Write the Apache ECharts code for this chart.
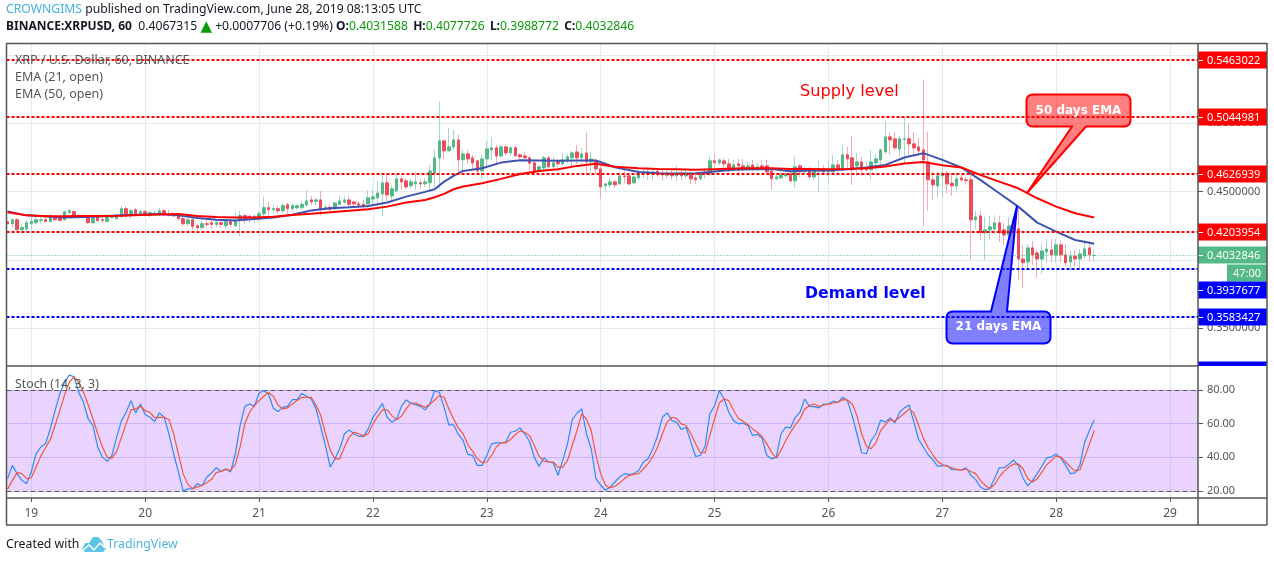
<!DOCTYPE html>
<html><head><meta charset="utf-8">
<style>html,body{margin:0;padding:0;background:#fff}#c{width:1274px;height:562px}</style>
<script src="https://cdn.jsdelivr.net/npm/echarts@6/dist/echarts.min.js"></script>
</head><body><div id="c"></div>
<script>
const firstHour = -5;
const dayLabels = ['19','20','21','22','23','24','25','26','27','28','29'];
const priceGrid = [0.35,0.40,0.45,0.50,0.55];
const priceTicks = [0.35,0.40,0.45,0.50];
const stochTicks = [20,40,60,80];
const opens = [
.4280,.4265,.4294,.4221,.4228,.4265,.4272,.4289,.4294,.4280,
.4309,.4309,.4294,.4346,.4353,.4324,.4324,.4316,.4272,.4316,
.4294,.4282,.4311,.4302,.4316,.4375,.4331,.4367,.4338,.4353,
.4324,.4338,.4336,.4360,.4331,.4331,.4331,.4302,.4265,.4294,
.4250,.4236,.4265,.4272,.4260,.4272,.4250,.4280,.4250,.4294,
.4324,.4319,.4304,.4299,.4338,.4382,.4367,.4375,.4360,.4404,
.4375,.4382,.4385,.4402,.4439,.4429,.4439,.4373,.4385,.4373,
.4407,.4422,.4439,.4424,.4410,.4407,.4410,.4446,.4454,.4483,
.4564,.4468,.4505,.4593,.4578,.4542,.4556,.4564,.4556,.4564,
.4637,.4747,.4871,.4798,.4827,.4878,.4732,.4776,.4747,.4725,
.4651,.4739,.4805,.4820,.4761,.4827,.4783,.4820,.4769,.4761,
.4747,.4710,.4651,.4673,.4747,.4681,.4725,.4703,.4725,.4747,
.4790,.4747,.4783,.4717,.4725,.4666,.4542,.4549,.4571,.4556,
.4615,.4615,.4564,.4600,.4637,.4629,.4634,.4649,.4634,.4620,
.4629,.4615,.4634,.4615,.4622,.4600,.4593,.4637,.4629,.4725,
.4710,.4725,.4703,.4659,.4703,.4688,.4666,.4695,.4659,.4688,
.4688,.4651,.4593,.4600,.4615,.4629,.4578,.4688,.4644,.4666,
.4607,.4651,.4666,.4644,.4644,.4695,.4659,.4769,.4747,.4688,
.4717,.4666,.4659,.4710,.4732,.4790,.4900,.4886,.4812,.4881,
.4886,.4849,.4827,.4805,.4717,.4586,.4542,.4615,.4634,.4561,
.4542,.4600,.4586,.4586,.4293,.4322,.4198,.4220,.4227,.4271,
.4220,.4183,.4293,.4227,.4007,.3985,.4088,.4051,.4007,.4058,
.4073,.4037,.4110,.4037,.3985,.4029,.4007,.4029,.4088,.4032];
const highs = [
.4280,.4306,.4306,.4265,.4294,.4314,.4314,.4314,.4314,.4336,
.4326,.4326,.4353,.4375,.4360,.4338,.4338,.4326,.4324,.4326,
.4319,.4331,.4331,.4338,.4397,.4392,.4375,.4382,.4367,.4367,
.4360,.4358,.4377,.4375,.4367,.4343,.4343,.4314,.4309,.4309,
.4265,.4287,.4294,.4287,.4287,.4294,.4294,.4299,.4348,.4360,
.4338,.4331,.4331,.4355,.4463,.4426,.4404,.4392,.4411,.4419,
.4411,.4411,.4427,.4512,.4468,.4456,.4505,.4402,.4402,.4424,
.4468,.4463,.4468,.4432,.4432,.4439,.4512,.4517,.4578,.4622,
.4629,.4549,.4622,.4622,.4593,.4593,.4644,.4593,.4600,.4695,
.4810,.5157,.4878,.4966,.4952,.4915,.4805,.4805,.4769,.4732,
.4769,.4871,.4900,.4842,.4842,.4842,.4834,.4834,.4776,.4790,
.4761,.4732,.4695,.4761,.4761,.4754,.4739,.4783,.4776,.4798,
.4842,.4820,.4930,.4790,.4739,.4703,.4564,.4600,.4586,.4644,
.4659,.4622,.4615,.4659,.4671,.4673,.4659,.4671,.4666,.4659,
.4659,.4688,.4651,.4659,.4651,.4637,.4644,.4673,.4761,.4776,
.4739,.4744,.4739,.4732,.4739,.4739,.4717,.4732,.4710,.4732,
.4732,.4673,.4629,.4644,.4651,.4644,.4754,.4703,.4681,.4681,
.4666,.4725,.4695,.4732,.4769,.4732,.4842,.4827,.4908,.4783,
.4754,.4717,.4805,.4776,.4812,.5017,.4937,.4937,.4908,.5037,
.4995,.4937,.4893,.5318,.4937,.4649,.4651,.4776,.4651,.4637,
.4637,.4622,.4610,.4659,.4359,.4359,.4315,.4322,.4327,.4322,
.4268,.4317,.4317,.4390,.4110,.4117,.4139,.4080,.4110,.4154,
.4154,.4154,.4139,.4117,.4066,.4073,.4080,.4146,.4139,.4078];
const lows = [
.4265,.4233,.4216,.4192,.4197,.4221,.4258,.4265,.4280,.4272,
.4289,.4287,.4289,.4338,.4311,.4304,.4304,.4265,.4258,.4282,
.4270,.4280,.4302,.4294,.4311,.4306,.4302,.4326,.4326,.4319,
.4316,.4319,.4324,.4319,.4319,.4314,.4289,.4250,.4250,.4216,
.4221,.4221,.4236,.4228,.4236,.4233,.4228,.4243,.4241,.4172,
.4265,.4275,.4270,.4282,.4304,.4324,.4343,.4338,.4343,.4338,
.4353,.4367,.4366,.4390,.4402,.4402,.4322,.4366,.4354,.4366,
.4402,.4407,.4385,.4378,.4385,.4371,.4366,.4390,.4390,.4322,
.4432,.4439,.4498,.4512,.4520,.4520,.4512,.4522,.4534,.4512,
.4532,.4522,.4739,.4793,.4805,.4634,.4647,.4703,.4659,.4622,
.4598,.4683,.4732,.4703,.4744,.4761,.4761,.4761,.4739,.4727,
.4659,.4634,.4639,.4644,.4668,.4673,.4678,.4688,.4710,.4688,
.4703,.4703,.4622,.4634,.4634,.4446,.4500,.4527,.4525,.4549,
.4561,.4549,.4556,.4586,.4598,.4586,.4586,.4610,.4578,.4598,
.4586,.4581,.4586,.4598,.4556,.4556,.4586,.4598,.4615,.4659,
.4695,.4651,.4644,.4644,.4610,.4644,.4651,.4651,.4651,.4659,
.4629,.4512,.4586,.4593,.4607,.4571,.4527,.4607,.4629,.4600,
.4586,.4498,.4622,.4556,.4622,.4634,.4644,.4659,.4549,.4615,
.4615,.4644,.4586,.4659,.4683,.4776,.4769,.4805,.4756,.4703,
.4769,.4769,.4769,.4249,.4361,.4439,.4454,.4454,.4488,.4468,
.4498,.4573,.4549,.4000,.4227,.4146,.4000,.4154,.4190,.4132,
.4110,.4110,.4122,.3853,.3797,.3927,.3963,.3871,.3897,.3980,
.3980,.3980,.3980,.3951,.3919,.3951,.3932,.4012,.3988,.3989];
const closes = [
.4265,.4294,.4221,.4236,.4272,.4282,.4294,.4294,.4280,.4316,
.4294,.4289,.4353,.4360,.4319,.4319,.4314,.4272,.4309,.4287,
.4289,.4326,.4316,.4326,.4375,.4331,.4360,.4338,.4353,.4326,
.4346,.4343,.4360,.4331,.4326,.4321,.4302,.4265,.4294,.4245,
.4236,.4265,.4260,.4260,.4272,.4260,.4280,.4260,.4289,.4324,
.4294,.4309,.4319,.4338,.4382,.4367,.4375,.4360,.4397,.4375,
.4397,.4397,.4407,.4432,.4424,.4439,.4371,.4385,.4371,.4417,
.4432,.4439,.4407,.4410,.4402,.4395,.4454,.4461,.4490,.4564,
.4476,.4520,.4593,.4571,.4534,.4571,.4571,.4556,.4571,.4651,
.4747,.4871,.4798,.4827,.4878,.4732,.4776,.4739,.4710,.4651,
.4739,.4812,.4820,.4761,.4827,.4783,.4820,.4761,.4754,.4747,
.4708,.4651,.4681,.4747,.4681,.4710,.4703,.4732,.4754,.4783,
.4747,.4776,.4717,.4739,.4666,.4534,.4556,.4571,.4549,.4615,
.4610,.4556,.4607,.4637,.4644,.4644,.4644,.4629,.4622,.4634,
.4615,.4629,.4615,.4629,.4593,.4586,.4629,.4629,.4725,.4712,
.4732,.4703,.4659,.4695,.4688,.4666,.4688,.4659,.4681,.4673,
.4644,.4593,.4607,.4622,.4629,.4578,.4681,.4644,.4666,.4607,
.4659,.4666,.4644,.4666,.4695,.4659,.4769,.4739,.4659,.4717,
.4659,.4659,.4717,.4739,.4805,.4900,.4878,.4820,.4886,.4886,
.4849,.4820,.4798,.4732,.4586,.4549,.4615,.4634,.4556,.4542,
.4593,.4586,.4581,.4293,.4315,.4198,.4220,.4242,.4271,.4198,
.4183,.4249,.4220,.4007,.3980,.4088,.4037,.4007,.4066,.4080,
.4037,.4110,.4037,.3980,.4029,.4007,.4044,.4080,.4037,.4033];
const emaHours = [-5,-1,3,7,11,15,19,23,27,31,35,39,43,47,51,55,59,63,67,71,75,79,83,85,87,89,91,95,99,103,107,111,115,119,123,128,132,136,140,144,148,152,156,160,164,168,172,176,180,184,188,192,196,200,204,208,212,216,220,224];
const ema21 = [.4355,.4326,.4319,.4311,.4314,.4319,.4326,.4331,.4336,.4326,.4306,.4294,.4289,.4299,.4311,.4331,.4361,.4378,.4385,.4395,.4420,.4463,.4498,.4517,.4573,.4615,.4651,.4671,.4712,.4729,.4727,.4725,.4727,.4727,.4678,.4644,.4634,.4632,.4634,.4647,.4659,.4664,.4666,.4649,.4654,.4654,.4664,.4676,.4695,.4749,.4781,.4732,.4676,.4586,.4488,.4390,.4273,.4207,.4146,.4119];
const ema50 = [.4348,.4326,.4319,.4319,.4321,.4321,.4324,.4328,.4333,.4336,.4321,.4314,.4311,.4311,.4316,.4328,.4337,.4349,.4359,.4371,.4390,.4420,.4439,.4459,.4483,.4517,.4537,.4561,.4593,.4629,.4651,.4664,.4688,.4703,.4681,.4671,.4666,.4664,.4659,.4664,.4668,.4671,.4671,.4666,.4666,.4664,.4666,.4671,.4683,.4705,.4717,.4693,.4676,.4622,.4573,.4524,.4451,.4390,.4341,.4310];
const stochK = [
27.3,35.2,30.3,26.3,24.3,31.3,42.1,46.1,48.0,56.9,
67.8,77.6,84.6,88.9,87.9,78.6,72.7,62.8,58.9,46.1,
40.1,37.6,41.1,52.0,61.8,66.8,73.7,66.4,71.7,65.4,
63.8,61.3,66.4,63.8,54.0,42.1,31.3,20.0,21.2,21.4,
24.3,23.0,28.3,30.7,33.8,31.6,33.2,31.3,42.1,58.9,
70.3,71.7,70.3,78.2,79.6,77.6,69.2,67.2,69.7,70.3,
74.3,74.3,78.0,76.3,74.7,68.8,57.9,47.0,34.2,39.1,
45.1,54.0,56.3,54.0,52.4,52.4,56.9,63.8,67.8,72.1,
63.8,60.9,62.8,70.3,74.1,72.1,71.3,70.3,
68.2,71.7,79.6,78.6,69.7,59.3,59.3,53.6,50.0,41.7,
41.1,35.2,35.2,41.1,48.0,48.6,48.6,49.0,54.9,55.5,
57.5,54.0,49.4,40.1,34.6,39.7,37.2,36.6,29.3,38.2,
48.0,62.4,66.2,68.8,54.0,45.1,27.3,23.4,20.4,22.4,
25.3,28.3,30.3,29.7,30.3,32.2,37.2,39.1,45.1,53.0,
63.8,66.4,61.8,60.9,56.5,57.9,49.0,40.5,41.1,46.6,
65.8,70.7,79.6,74.7,66.8,61.8,59.9,60.3,58.9,53.0,
53.6,51.4,41.1,39.1,40.1,54.0,57.9,57.5,63.8,66.8,
74.7,70.3,70.1,69.4,71.7,71.7,73.3,72.7,
75.7,73.7,64.8,54.0,42.7,42.1,50.0,54.0,62.2,60.9,
63.4,60.5,66.8,69.4,71.1,60.9,50.6,46.1,41.5,38.6,
34.6,35.0,35.2,32.6,32.6,32.6,33.8,29.3,26.9,22.4,
20.8,21.4,27.3,33.8,33.8,35.8,38.4,35.2,27.7,23.0,
26.1,30.3,34.8,39.7,40.3,41.9,39.5,35.2,30.3,30.7,
35.6,49.0,55.9,62.2];
const stochD = [
21.0,26.3,30.9,30.3,27.3,27.7,34.2,40.7,45.7,50.6,
58.9,67.8,77.0,84.6,87.9,84.6,78.6,71.1,62.8,54.0,
46.1,40.1,39.5,43.5,52.0,59.9,68.2,68.8,70.3,67.8,
66.8,63.4,63.8,63.8,62.4,54.0,42.1,30.3,23.9,21.4,
22.4,23.4,24.9,26.9,30.9,31.6,32.8,32.2,35.8,46.1,
59.9,66.8,70.7,73.7,76.3,78.6,76.3,71.1,68.8,69.4,
71.7,73.7,75.7,75.7,75.7,71.1,64.8,54.0,44.1,39.1,
39.1,46.1,52.0,54.9,54.0,52.6,54.0,59.9,64.4,68.2,
68.2,64.8,62.4,64.4,68.8,72.3,72.3,71.1,
69.7,71.7,74.1,76.7,75.7,68.8,62.8,57.5,54.0,47.6,
43.7,39.1,36.8,37.2,41.1,46.1,48.6,48.6,50.6,53.4,
55.7,54.9,52.9,47.0,40.7,37.6,37.2,37.2,34.2,34.2,
38.2,47.0,55.9,65.8,62.8,55.9,41.1,30.3,23.4,21.8,
22.8,24.9,27.3,29.3,29.9,30.3,33.2,36.2,40.5,46.1,
54.0,60.9,63.8,63.2,59.9,58.9,54.0,48.0,42.7,42.7,
53.0,62.8,72.3,74.7,73.7,67.8,63.2,61.5,59.5,56.9,
54.9,52.4,48.0,43.1,39.5,44.1,50.0,54.9,59.3,62.8,
68.8,70.7,71.7,70.3,71.1,71.5,72.3,72.7,
74.3,74.1,71.7,64.8,54.0,46.5,45.1,48.6,55.9,59.3,
62.4,61.5,63.8,66.2,68.8,66.4,58.9,51.4,45.7,41.5,
37.6,35.6,34.8,33.8,32.8,32.4,33.0,31.6,30.3,26.3,
23.4,21.4,23.8,28.3,31.6,34.2,36.0,36.0,33.2,27.3,
25.3,27.3,31.3,35.6,38.2,40.7,40.1,37.2,34.2,31.8,
32.6,40.1,48.0,55.9];
const supplyLevels = [0.5463022,0.5044981,0.4626939,0.4203954];
const demandLevels = [0.3937677,0.3583427];
const offscreenLevel = 0.3198;
const lastPrice = 0.4032846;
const countdown = '47:00';

const FONT = '"Noto Sans", sans-serif';
const W_FONT = '"DejaVu Sans", sans-serif';
const X0 = 6.5, X1 = 1198, H0 = 31.3, HPX = 4.745;
const hMin = (X0 - H0) / HPX, hMax = (X1 - H0) / HPX;
const dayTicks = dayLabels.map((_, i) => i * 24);
const hourOf = i => firstHour + i;

const wicks = opens.map((o, i) => [hourOf(i), o, closes[i], lows[i], highs[i]]);
const bodies = opens.map((o, i) => [hourOf(i), o, closes[i], Math.min(o, closes[i]), Math.max(o, closes[i])]);
const pair = (xs, ys) => ys.map((y, i) => [xs[i], y]);
const seq = a => a.map((y, i) => [hourOf(i), y]);

function levelLines(values, color) {
  return values.map(v => ({ yAxis: v, lineStyle: { color: color, type: [3, 2], width: 2 } }));
}
const tagData = [
  ...supplyLevels.map(v => [hMax, v, '#ff0000', 0]),
  [hMax, lastPrice, '#53b987', 0],
  [hMax, demandLevels[0], '#0000ff', 22],
  [hMax, demandLevels[1], '#0000ff', 0],
  [hMax, offscreenLevel, '#0000ff', 0]
];
function renderTag(params, api) {
  const row = tagData[params.dataIndex];
  const p = api.coord([row[0], row[1]]);
  const y = Math.round(p[1]) + row[3];
  const bottom = params.coordSys.y + params.coordSys.height;
  const kids = [
    { type: 'rect', shape: { x: p[0], y: y - 8.5, width: 69, height: Math.min(17, bottom - (y - 8.5)) }, style: { fill: row[2] } }
  ];
  if (y + 8.5 <= bottom) {
    kids.push(
      { type: 'line', shape: { x1: p[0], y1: y + .5, x2: p[0] + 5, y2: y + .5 }, style: { stroke: '#fff', lineWidth: 1 } },
      { type: 'text', x: p[0] + 9, y: y + .5, style: { text: row[1].toFixed(7), fill: '#fff', font: '11px ' + FONT, verticalAlign: 'middle', align: 'left' } }
    );
  }
  if (row[1] === lastPrice) {
    kids.push({ type: 'rect', shape: { x: p[0] + 29, y: y + 9.5, width: 40, height: 17 }, style: { fill: '#53b987' } });
    kids.push({ type: 'text', x: p[0] + 35, y: y + 18.5, style: { text: countdown, fill: '#fff', font: '11px ' + FONT, verticalAlign: 'middle', align: 'left' } });
  }
  return { type: 'group', children: kids };
}

function callout(x, y, w, h, r, b1, b2, tipX, tipY) {
  const pts = [];
  const arc = (cx, cy, a0) => { for (let k = 0; k <= 4; k++) { const a = a0 + k * Math.PI / 8; pts.push([cx + r * Math.cos(a), cy + r * Math.sin(a)]); } };
  arc(x + r, y + r, Math.PI);
  if (tipY < y) pts.push([b1, y], [tipX, tipY], [b2, y]);
  arc(x + w - r, y + r, -Math.PI / 2);
  arc(x + w - r, y + h - r, 0);
  if (tipY > y) pts.push([b2, y + h], [tipX, tipY], [b1, y + h]);
  arc(x + r, y + h - r, Math.PI / 2);
  return pts;
}
const txt = (x, y, text, font, fill, extra) => ({ type: 'text', x, y, silent: true, z: 60, style: Object.assign({ text, font, fill, textVerticalAlign: 'middle' }, extra || {}) });
const frameLine = (x1, y1, x2, y2) => ({ type: 'line', silent: true, z: 50, shape: { x1, y1, x2, y2 }, style: { stroke: '#555', lineWidth: 1.5 } });

const chart = echarts.init(document.getElementById('c'), null, { renderer: 'canvas' });
chart.setOption({
  animation: false,
  backgroundColor: '#fff',
  title: [
    { left: 6, top: 4, padding: 0, text: '{a|CROWNGIMS} published on TradingView.com, June 28, 2019 08:13:05 UTC',
      textStyle: { fontFamily: 'Noto Sans', fontSize: 12.2, fontWeight: 'normal', color: '#131722', rich: { a: { color: '#3eb2e0', fontFamily: 'Noto Sans', fontSize: 12.2 } } } },
    { left: 6, top: 21, padding: 0, text: '{b|BINANCE:XRPUSD, 60}  0.4067315 {t|▲} +0.0007706 (+0.19%) {b|O:}{g|0.4031588} {b|H:}{g|0.4077726} {b|L:}{g|0.3988772} {b|C:}{g|0.4032846}',
      textStyle: { fontFamily: 'Noto Sans', fontSize: 12.2, fontWeight: 'normal', color: '#131722', rich: {
        b: { fontFamily: 'Noto Sans', fontSize: 12, fontWeight: 'bold', color: '#131722' },
        t: { fontFamily: 'DejaVu Sans', fontSize: 15, color: '#0a9a0a', height: 12, lineHeight: 12 },
        g: { fontFamily: 'Noto Sans', fontSize: 12.2, color: '#0a9a0a', padding: [0, 2, 0, 0] } } } }
  ],
  grid: [
    { left: X0, width: X1 - X0, top: 43, height: 323 },
    { left: X0, width: X1 - X0, top: 366, height: 132 }
  ],
  xAxis: [
    { type: 'value', gridIndex: 0, min: hMin, max: hMax,
      axisLine: { show: false, onZero: false }, axisTick: { show: false, customValues: dayTicks },
      axisLabel: { show: false, customValues: dayTicks }, splitLine: { show: true, lineStyle: { color: '#e2ebf2', width: 1 } } },
    { type: 'value', gridIndex: 1, min: hMin, max: hMax,
      axisLine: { show: false, onZero: false }, axisTick: { show: true, length: 4, customValues: dayTicks, lineStyle: { color: '#555' } },
      axisLabel: { show: true, customValues: dayTicks, color: '#555', fontFamily: 'Noto Sans', fontSize: 12, margin: 10, formatter: v => dayLabels[Math.round(v / 24)] },
      splitLine: { show: true, lineStyle: { color: '#e2ebf2', width: 1 } } }
  ],
  yAxis: [
    { type: 'value', gridIndex: 0, position: 'right', min: 0.3224, max: 0.5587,
      axisLine: { show: false, onZero: false }, axisTick: { show: true, length: 5, customValues: priceGrid, lineStyle: { color: '#555' } },
      axisLabel: { customValues: priceTicks, color: '#555', fontFamily: 'Noto Sans', fontSize: 11, margin: 9, formatter: v => v.toFixed(7) },
      splitLine: { show: true, lineStyle: { color: '#e2ebf2', width: 1 } } },
    { type: 'value', gridIndex: 1, position: 'right', min: 15.8, max: 94.3,
      axisLine: { show: false, onZero: false }, axisTick: { show: true, length: 5, customValues: stochTicks, lineStyle: { color: '#555' } },
      axisLabel: { customValues: stochTicks, color: '#555', fontFamily: 'Noto Sans', fontSize: 11, margin: 9, formatter: v => v.toFixed(2) },
      splitLine: { show: true, lineStyle: { color: 'rgba(160,170,235,0.45)', width: 1 } } }
  ],
  series: [
    { name: 'XRPUSD wicks', type: 'candlestick', xAxisIndex: 0, yAxisIndex: 0, barWidth: 1, data: wicks, z: 3,
      itemStyle: { color: '#a6d8ca', color0: '#f7a8b1', borderColor: '#a6d8ca', borderColor0: '#f7a8b1', borderWidth: 1 } },
    { name: 'XRPUSD', type: 'candlestick', xAxisIndex: 0, yAxisIndex: 0, barWidth: 3, data: bodies, z: 4,
      itemStyle: { color: '#53b987', color0: '#eb4d5c', borderColor: '#53b987', borderColor0: '#eb4d5c', borderWidth: 1 } },
    { name: 'EMA (21, open)', type: 'line', xAxisIndex: 0, yAxisIndex: 0, data: pair(emaHours, ema21), showSymbol: false, z: 5,
      lineStyle: { color: '#3f54b0', width: 2 } },
    { name: 'EMA (50, open)', type: 'line', xAxisIndex: 0, yAxisIndex: 0, data: pair(emaHours, ema50), showSymbol: false, z: 6,
      lineStyle: { color: '#ff0000', width: 2 },
      markLine: { silent: true, symbol: 'none', precision: 7, label: { show: false }, z: 7, animation: false,
        data: [...levelLines(supplyLevels, '#ff0000'), ...levelLines(demandLevels, '#0000ff'),
          { yAxis: lastPrice, lineStyle: { color: '#53b987', type: [1, 2], width: 1 } }] } },
    { name: 'Price tags', type: 'custom', xAxisIndex: 0, yAxisIndex: 0, data: tagData.map(r => [r[0], r[1]]), renderItem: renderTag, z: 20, clip: false, silent: true },
    { name: '%K', type: 'line', xAxisIndex: 1, yAxisIndex: 1, data: seq(stochK), showSymbol: false, z: 5,
      lineStyle: { color: '#2e8bf5', width: 1.2 },
      markArea: { silent: true, itemStyle: { color: 'rgba(150,40,255,0.2)' }, data: [[{ yAxis: 20 }, { yAxis: 80 }]] },
      markLine: { silent: true, symbol: 'none', label: { show: false }, animation: false,
        lineStyle: { color: '#5b5566', type: [5, 3], width: 1 }, data: [{ yAxis: 20 }, { yAxis: 80 }] } },
    { name: '%D', type: 'line', xAxisIndex: 1, yAxisIndex: 1, data: seq(stochD), showSymbol: false, z: 6,
      lineStyle: { color: '#f0583a', width: 1.2 } }
  ],
  graphic: [
    frameLine(6.5, 43, 6.5, 525), frameLine(6, 43.5, 1267, 43.5), frameLine(1267, 43, 1267, 525),
    frameLine(6, 525, 1267, 525), frameLine(6, 366, 1198, 366), frameLine(6, 498, 1267, 498), frameLine(1198, 43, 1198, 525),
    txt(15, 60.5, 'XRP / U.S. Dollar, 60, BINANCE', '12.5px ' + FONT, '#555'),
    txt(15, 77.5, 'EMA (21, open)', '12.5px ' + FONT, '#555'),
    txt(15, 94.5, 'EMA (50, open)', '12.5px ' + FONT, '#555'),
    txt(15, 384, 'Stoch (14, 3, 3)', '12.3px ' + FONT, '#555'),
    txt(800, 92, 'Supply level', '16.2px ' + W_FONT, '#ff0000'),
    txt(805, 294, 'Demand level', 'bold 15.7px ' + W_FONT, '#0000ff'),
    { type: 'polygon', silent: true, z: 40, shape: { points: callout(1026.5, 94.5, 104, 32, 6, 1072, 1086, 1027, 193) },
      style: { fill: 'rgba(255,0,0,0.5)', stroke: '#ff0000', lineWidth: 2 } },
    txt(1078.5, 110.5, '50 days EMA', 'bold 12px ' + W_FONT, '#fff', { textAlign: 'center' }),
    { type: 'polygon', silent: true, z: 40, shape: { points: callout(946.5, 311.5, 104, 32, 6, 991, 1007, 1017, 206) },
      style: { fill: 'rgba(0,0,255,0.5)', stroke: '#0000ff', lineWidth: 2 } },
    txt(998.5, 327, '21 days EMA', 'bold 12px ' + W_FONT, '#fff', { textAlign: 'center' }),
    txt(6, 544.5, 'Created with', '12.3px ' + FONT, '#131722'),
    { type: 'polygon', silent: true, z: 60, shape: { points: [[82,549],[85,543],[89,543],[93,537],[98,537],[102,541],[104,546],[106,549],[103,552],[85,552]] }, style: { fill: '#5cc5e6' } },
    { type: 'polyline', silent: true, z: 61, shape: { points: [[83,550],[89,545],[94,550],[100,543],[105,548]] }, style: { stroke: '#fff', lineWidth: 1.5, fill: null } },
    txt(107, 544.5, 'TradingView', '12.3px ' + FONT, '#4cb6e2')
  ]
});
</script></body></html>
